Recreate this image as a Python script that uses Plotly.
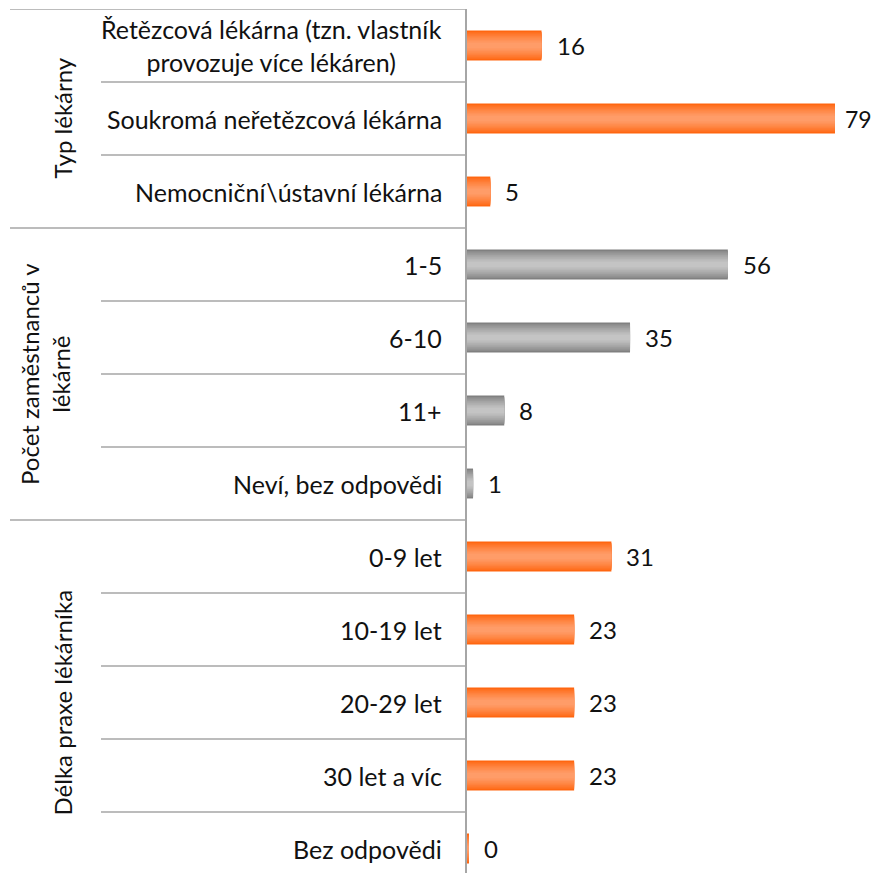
import plotly.graph_objects as go

categories = [
    "Řetězcová lékárna (tzn. vlastník<br>provozuje více lékáren)",
    "Soukromá neřetězcová lékárna",
    "Nemocniční\\ústavní lékárna",
    "1-5",
    "6-10",
    "11+",
    "Neví, bez odpovědi",
    "0-9 let",
    "10-19 let",
    "20-29 let",
    "30 let a víc",
    "Bez odpovědi",
]
values = [16, 79, 5, 56, 35, 8, 1.3, 31, 23, 23, 23, 0.4]
groups = ["Typ lékárny", "Počet zaměstnanců v<br>lékárně", "Délka praxe lékárníka"]
group_sizes = [3, 4, 5]
group_palette = ["orange", "gray", "orange"]

OFF = 8  # page body margin
W, H = 879 - OFF, 881 - 2 * OFF
AX_X = 467  # page pixel of axis line
TOP = 9 - OFF
ROW = 73.0
SCALE = 4.658  # px per unit
n = len(categories)

def px(x):
    return (x - OFF) / W

ramps = {
    "orange": [(255, 102, 16), (255, 156, 104)],
    "gray": [(128, 128, 128), (196, 196, 196)],
}

row_group = []
for g, s in zip(group_palette, group_sizes):
    row_group += [g] * s

ypos = list(range(n))
fig = go.Figure()
LAYERS = 10
BW = 0.41
for k in range(LAYERS):
    t = k / (LAYERS - 1)
    w = BW * (1 - 0.9 * k / LAYERS)
    cols = []
    for g in row_group:
        a, b = ramps[g]
        c = tuple(int(round(a[i] + (b[i] - a[i]) * t ** 0.8)) for i in range(3))
        cols.append("rgb(%d,%d,%d)" % c)
    fig.add_trace(go.Bar(
        x=values, y=ypos, orientation="h", width=w,
        marker=dict(color=cols, line=dict(width=0)),
        hoverinfo="skip", showlegend=False, cliponaxis=False,
    ))

FONT = "Lato"
annotations = []
for i, (c, v) in enumerate(zip(categories, values)):
    annotations.append(dict(
        x=px(444), xref="paper", y=i, yref="y", text=c, showarrow=False,
        xanchor="right", yanchor="middle", align="center",
        font=dict(family=FONT, size=25, color="#111111"),
    ))
    end_px = AX_X + v * SCALE
    near_edge = end_px > 820
    annotations.append(dict(
        x=v, xref="x", y=i, yref="y", text="%.0f" % v, showarrow=False,
        xanchor="left", yanchor="middle", xshift=8 if near_edge else 13,
        font=dict(family=FONT, size=23 if near_edge else 24, color="#111111"),
    ))

shapes = []
start = 0
gx = [62, 45, 62]
for gi, (g, s) in enumerate(zip(groups, group_sizes)):
    mid = start + (s - 1) / 2
    annotations.append(dict(
        x=px(gx[gi]), xref="paper", y=mid, yref="y", text=g, showarrow=False,
        textangle=-90, xanchor="center", yanchor="middle", align="center",
        font=dict(family=FONT, size=24, color="#111111"),
    ))
    shapes.append(dict(type="line", xref="paper", yref="y", x0=px(10), x1=px(AX_X),
                       y0=start - 0.5, y1=start - 0.5,
                       line=dict(color="#A6A6A6", width=1.5)))
    for j in range(1, s):
        yy = start + j - 0.5
        shapes.append(dict(type="line", xref="paper", yref="y", x0=px(101), x1=px(AX_X),
                           y0=yy, y1=yy, line=dict(color="#A6A6A6", width=1.5)))
    start += s

y_bottom = (H - TOP) / ROW - 0.5
fig.update_layout(
    width=W, height=H,
    margin=dict(l=0, r=0, t=TOP, b=0),
    paper_bgcolor="white", plot_bgcolor="white",
    barmode="overlay",
    xaxis=dict(domain=[px(AX_X), 1], range=[0, (W + OFF - AX_X) / SCALE], visible=False),
    yaxis=dict(range=[y_bottom, -0.5], showticklabels=False, showgrid=False,
               zeroline=False, showline=True, linecolor="#A6A6A6", linewidth=1.5,
               ticks=""),
    annotations=annotations,
    shapes=shapes,
)
fig.write_html("out.html")
